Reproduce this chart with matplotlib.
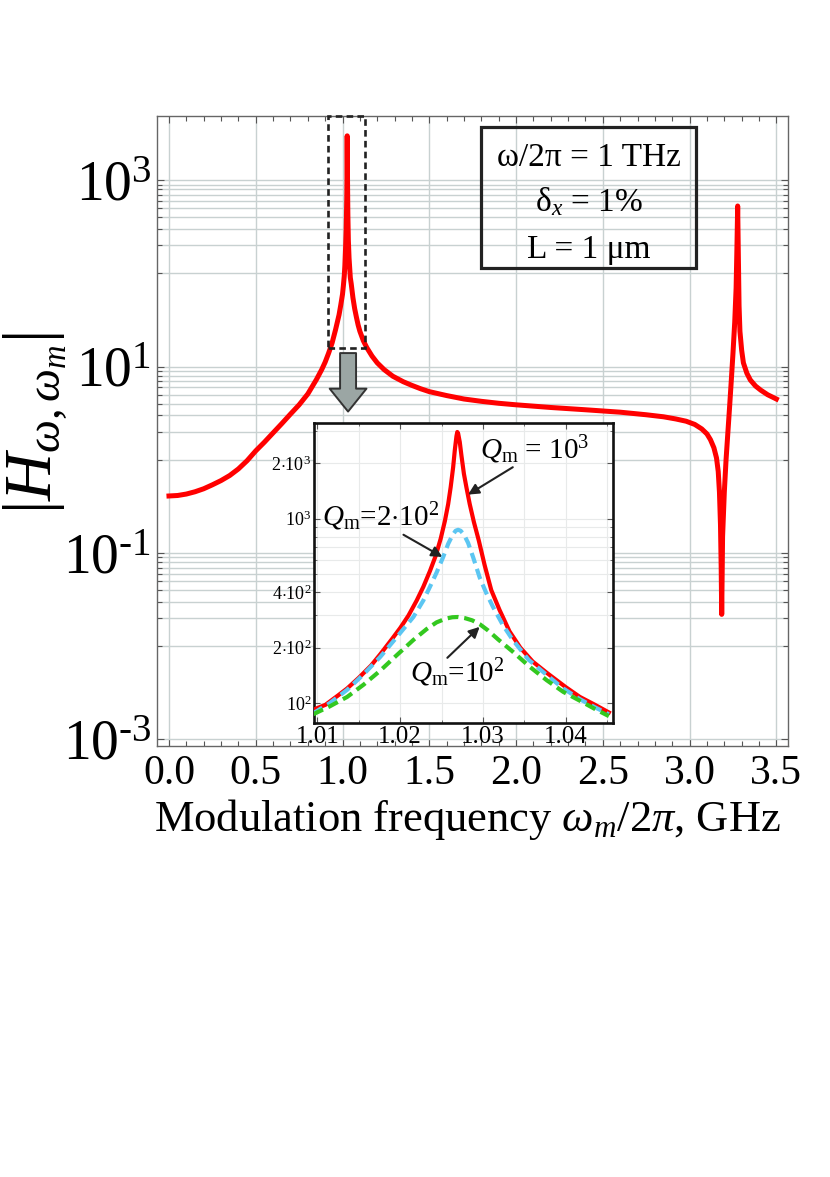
import matplotlib
matplotlib.use('Agg')
import matplotlib.pyplot as plt
from matplotlib.patches import Rectangle
from matplotlib.ticker import FixedLocator, MultipleLocator, NullFormatter, FixedFormatter

plt.rcParams['font.family'] = ['Liberation Serif', 'DejaVu Serif']
plt.rcParams['mathtext.fontset'] = 'custom'
plt.rcParams['mathtext.rm'] = 'Liberation Serif'
plt.rcParams['mathtext.it'] = 'Liberation Serif:italic'
plt.rcParams['mathtext.bf'] = 'Liberation Serif:bold'

# ---------------- data ----------------
main_freq = [0.00, 0.05, 0.10, 0.15, 0.20, 0.25, 0.30, 0.35, 0.40, 0.45, 0.50, 0.55,
             0.60, 0.65, 0.70, 0.75, 0.80, 0.85, 0.88, 0.90, 0.92, 0.94, 0.96, 0.98,
             0.99, 1.000, 1.005, 1.010, 1.0136, 1.0176, 1.0208, 1.0228, 1.0245, 1.0254,
             1.0261, 1.0266, 1.0269, 1.0272, 1.0276, 1.0282, 1.0293, 1.0308, 1.0336,
             1.0377, 1.045, 1.05, 1.06, 1.07, 1.08, 1.09, 1.10, 1.12, 1.14, 1.17, 1.20,
             1.24, 1.29, 1.35, 1.40, 1.45, 1.50, 1.60, 1.70, 1.80, 1.90, 2.00, 2.20,
             2.40, 2.60, 2.75, 2.85, 2.92, 2.98, 3.03, 3.07, 3.10, 3.12, 3.14, 3.155,
             3.165, 3.172, 3.178, 3.182, 3.185, 3.190, 3.20, 3.21, 3.22, 3.23, 3.24,
             3.25, 3.26, 3.268, 3.273, 3.277, 3.281, 3.285, 3.29, 3.30, 3.31, 3.33,
             3.35, 3.38, 3.41, 3.45, 3.50]
main_H = [0.41, 0.415, 0.43, 0.455, 0.49, 0.54, 0.60, 0.68, 0.80, 0.98, 1.25, 1.55,
          1.95, 2.45, 3.1, 3.9, 5.1, 7.3, 9.3, 11.2, 14, 18, 25, 36,
          46, 60, 74, 94, 121, 187, 283, 427, 653, 985,
          1490, 2450, 3000, 2700, 2000, 1380, 800, 427, 228,
          146, 90, 78, 55, 42, 34, 28, 24, 19, 16, 13, 11,
          9.3, 7.9, 6.9, 6.3, 5.8, 5.4, 4.9, 4.5, 4.25, 4.05, 3.9, 3.65,
          3.45, 3.25, 3.05, 2.9, 2.75, 2.6, 2.4, 2.15, 1.9, 1.65, 1.35, 1.05,
          0.75, 0.45, 0.2, 0.07, 0.022, 0.15, 0.45, 1.0, 1.9, 3.6, 7,
          14, 30, 70, 200, 530, 150, 45, 24, 15, 11, 8.5,
          7.2, 6.2, 5.6, 5.0, 4.5]

q1000_freq = [1.0095, 1.0110, 1.0125, 1.0136, 1.0150, 1.0165, 1.0176, 1.0190, 1.0200,
              1.0210, 1.0220, 1.0228, 1.0236, 1.0243, 1.0249, 1.0254, 1.0258, 1.0261,
              1.0264, 1.0266, 1.0268, 1.0269, 1.0270, 1.0272, 1.0274, 1.0277, 1.0280,
              1.0284, 1.0289, 1.0295, 1.0302, 1.0310, 1.0320, 1.0332, 1.0345, 1.0360,
              1.0377, 1.0400, 1.0417, 1.0435, 1.0452]
q1000_H = [92, 98, 110, 120, 137, 160, 184, 222, 255,
           298, 360, 427, 520, 630, 780, 970, 1200, 1480,
           1900, 2350, 2800, 2950, 2900, 2600, 2200, 1750, 1480,
           1200, 960, 760, 560, 410, 320, 245, 200, 168,
           146, 122, 108, 98, 89]

q200_freq = [1.0095, 1.0115, 1.0136, 1.0155, 1.0176, 1.0196, 1.0216, 1.0228, 1.0236,
             1.0244, 1.0252, 1.0258, 1.0263, 1.0267, 1.0270, 1.0273, 1.0277, 1.0282,
             1.0288, 1.0296, 1.0304, 1.0312, 1.0324, 1.0336, 1.0355, 1.0377, 1.0397,
             1.0417, 1.0435, 1.0452]
q200_H = [88, 100, 118, 142, 178, 228, 293, 360, 427,
          510, 620, 730, 810, 860, 870, 860, 820, 740,
          620, 480, 395, 333, 265, 220, 172, 142, 120,
          105, 95, 87]

q100_freq = [1.0095, 1.0115, 1.0136, 1.0156, 1.0176, 1.0196, 1.0216, 1.0232, 1.0244,
             1.0255, 1.0263, 1.0270, 1.0278, 1.0287, 1.0296, 1.0306, 1.0318, 1.0336,
             1.0356, 1.0377, 1.0397, 1.0417, 1.0435, 1.0452]
q100_H = [87, 96, 108, 126, 150, 182, 220, 252, 274,
          287, 292, 293, 289, 281, 268, 248, 222, 190,
          158, 133, 115, 103, 93, 85]

main_xticks = [0.0, 0.5, 1.0, 1.5, 2.0, 2.5, 3.0, 3.5]
main_yticks = [1e-3, 1e-1, 1e1, 1e3]
HY = '\u2010'
main_yticklabels = [r'$10^{' + HY + '3}$', r'$10^{' + HY + '1}$', r'$10^{1}$', r'$10^{3}$']
inset_xticks = [1.01, 1.02, 1.03, 1.04]
inset_yticks = [100, 200, 400, 1000, 2000]
inset_yticklabels = [r'$10^{2}$', r'$2{\cdot}10^{2}$', r'$4{\cdot}10^{2}$',
                     r'$10^{3}$', r'$2{\cdot}10^{3}$']

# ---------------- figure ----------------
W, H = 830, 1177
fig = plt.figure(figsize=(W / 100, H / 100), dpi=100)

def fx(px):
    return px / W

def fy(py):
    return 1 - py / H

YTOP = 10 ** 3.69
ax = fig.add_axes([fx(157), fy(746), (788 - 157) / W, (746 - 116) / H])
ax.set_yscale('log')
ax.set_xlim(-0.069, 3.567)
ax.set_ylim(10 ** -3.07, YTOP)

gridc = '#c8d1d1'
ax.xaxis.set_major_locator(FixedLocator(main_xticks))
ax.xaxis.set_minor_locator(MultipleLocator(0.1))
ax.set_xticklabels([f'{t:.1f}' for t in main_xticks])
ax.yaxis.set_major_locator(FixedLocator(main_yticks))
ax.yaxis.set_major_formatter(FixedFormatter(main_yticklabels))
minor_y = [m * 10.0 ** k for k in (-2, 0, 2) for m in range(1, 10)]
ax.yaxis.set_minor_locator(FixedLocator(minor_y))
ax.yaxis.set_minor_formatter(NullFormatter())

ax.grid(True, which='major', axis='x', color=gridc, lw=1.0)
ax.grid(True, which='major', axis='y', color=gridc, lw=1.0)
ax.grid(True, which='minor', axis='y', color=gridc, lw=1.0)
ax.set_axisbelow(True)

for s in ax.spines.values():
    s.set_color('#666666')
    s.set_linewidth(1.0)
ax.tick_params(which='both', direction='in', top=True, right=True, color='#555555')
ax.tick_params(which='major', length=5, width=0.8)
ax.tick_params(which='minor', length=3.5, width=0.8)
ax.tick_params(axis='x', which='major', labelsize=30, pad=6)
ax.tick_params(axis='y', which='major', labelsize=40, pad=4)

ax.plot(main_freq, main_H, color='#ff0000', lw=3.6, zorder=3)

# dashed zoom box
ax.add_patch(Rectangle((0.916, 16.0), 1.13 - 0.916, YTOP - 16.0, fill=False,
                       ec='#222222', lw=1.9, ls=(0, (2.5, 1.6)), zorder=4, clip_on=False))

# grey arrow
ax.annotate('', xy=(1.032, 3.3), xytext=(1.032, 14.0),
            arrowprops=dict(arrowstyle='simple,head_length=16.5,head_width=26.5,tail_width=11.5',
                            mutation_scale=1, fc='#9ba6a4', ec='#333333', lw=1.4,
                            shrinkA=0, shrinkB=0), zorder=5)

# parameters box
fig.patches.append(Rectangle((fx(481), fy(268)), (696 - 481) / W, (268 - 127) / H,
                             transform=fig.transFigure, fill=False, ec='#222222', lw=2.3,
                             zorder=6))
cx = fx(588.5)
fig.text(cx, fy(166), 'ω/2π = 1 THz', ha='center', va='baseline', fontsize=24)
fig.text(cx, fy(211), 'δ$_{x}$ = 1%', ha='center', va='baseline', fontsize=24)
fig.text(cx, fy(258), 'L = 1 μm', ha='center', va='baseline', fontsize=24)

# axis labels
fig.text(fx(35), fy(423), r'$|H_{\omega,\omega_m}|$', rotation=90, ha='center',
         va='center', fontsize=48)
fig.text(fx(467), fy(819), r'Modulation frequency $\omega_m/2\pi$, GHz', ha='center',
         va='center', fontsize=32)

# ---------------- inset ----------------
axi = fig.add_axes([fx(314), fy(723), (613 - 314) / W, (723 - 423) / H])
axi.set_zorder(10)
axi.set_facecolor('white')
axi.set_yscale('log')
axi.set_xlim(1.0096, 1.0457)
axi.set_ylim(78, 3300)
axi.xaxis.set_major_locator(FixedLocator(inset_xticks))
axi.xaxis.set_minor_locator(MultipleLocator(0.005))
axi.set_xticklabels([f'{t:.2f}' for t in inset_xticks])
axi.yaxis.set_major_locator(FixedLocator(inset_yticks))
axi.yaxis.set_major_formatter(FixedFormatter(inset_yticklabels))
axi.yaxis.set_minor_locator(FixedLocator([300, 500, 600, 700, 800, 900, 3000]))
axi.yaxis.set_minor_formatter(NullFormatter())
axi.grid(True, which='both', color='#e8eaea', lw=0.8)
axi.set_axisbelow(True)
for s in axi.spines.values():
    s.set_color('#111111')
    s.set_linewidth(1.9)
axi.tick_params(which='both', direction='in', color='#555555', top=True, right=True)
axi.tick_params(which='major', length=4)
axi.tick_params(which='minor', length=2.5)
axi.tick_params(axis='x', labelsize=18, pad=2)
axi.tick_params(axis='y', labelsize=13, pad=2)

axi.plot(q1000_freq, q1000_H, color='#ff0000', lw=3.0, zorder=3)
axi.plot(q200_freq, q200_H, color='#5cc6f2', lw=3.0, dashes=(2.6, 1.4), zorder=4)
axi.plot(q100_freq, q100_H, color='#33c81f', lw=3.0, dashes=(2.6, 1.4), zorder=5)

arw = dict(arrowstyle='-|>', color='#222222', lw=1.5, mutation_scale=16,
           shrinkA=0, shrinkB=0)
axi.annotate(r'$Q_{\mathrm{m}}$ = 10$^{3}$', xy=(1.0282, 1350), xytext=(1.0296, 2370),
             fontsize=21, ha='left', va='center')
axi.annotate('', xy=(1.0282, 1350), xytext=(1.0336, 1900), arrowprops=arw)
axi.annotate(r'$Q_{\mathrm{m}}$=2$\cdot$10$^{2}$', xy=(1.0251, 620), xytext=(1.0176, 1025),
             fontsize=21, ha='center', va='center')
axi.annotate('', xy=(1.0251, 620), xytext=(1.0204, 818), arrowprops=arw)
axi.annotate(r'$Q_{\mathrm{m}}$=10$^{2}$', xy=(1.0296, 259), xytext=(1.0269, 146),
             fontsize=21, ha='center', va='center')
axi.annotate('', xy=(1.0296, 259), xytext=(1.0257, 176), arrowprops=arw)

fig.savefig('out.png', dpi=100)
